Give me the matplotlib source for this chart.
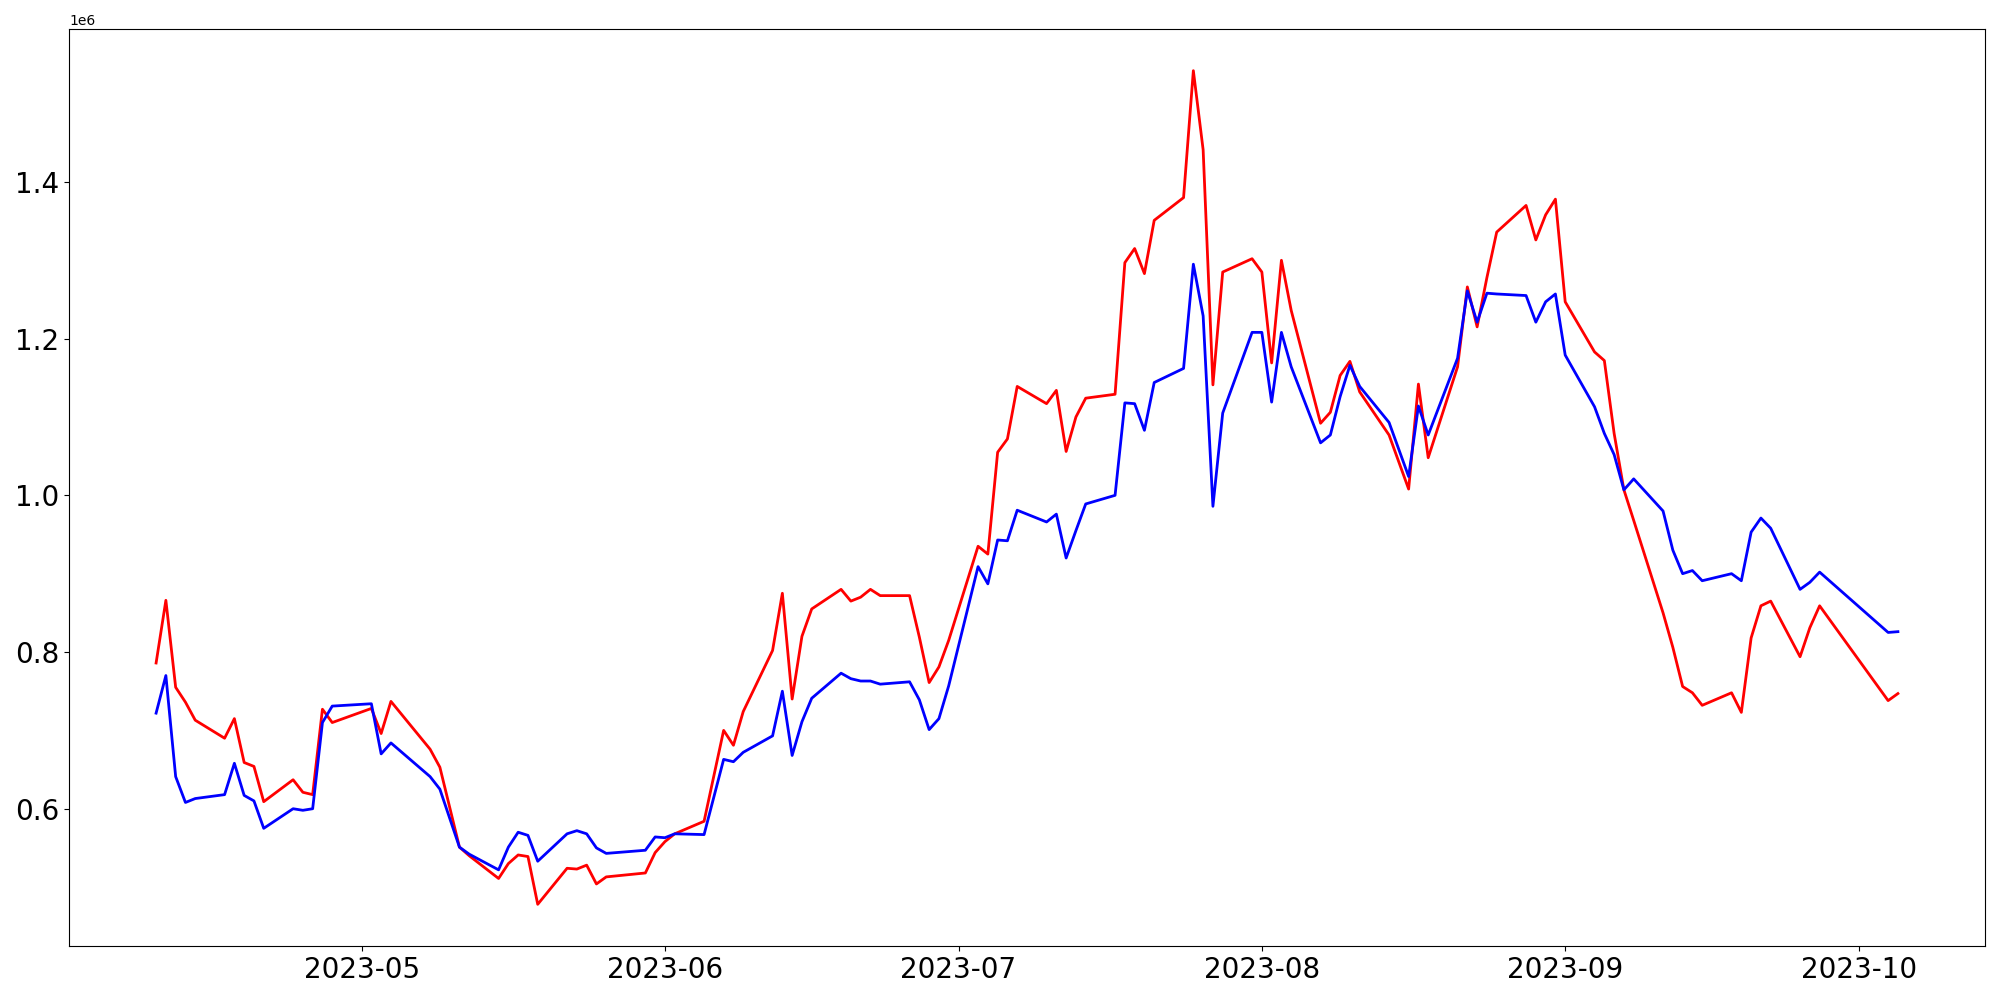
import matplotlib
matplotlib.use("Agg")
import matplotlib.pyplot as plt
import pandas as pd

# trading days seen in the picture
dates = pd.to_datetime([
    "2023-04-10", "2023-04-11", "2023-04-12", "2023-04-13", "2023-04-14",
    "2023-04-17", "2023-04-18", "2023-04-19", "2023-04-20", "2023-04-21",
    "2023-04-24", "2023-04-25", "2023-04-26", "2023-04-27", "2023-04-28",
    "2023-05-02", "2023-05-03", "2023-05-04", "2023-05-08", "2023-05-09",
    "2023-05-11", "2023-05-12", "2023-05-15", "2023-05-16", "2023-05-17",
    "2023-05-18", "2023-05-19", "2023-05-22", "2023-05-23", "2023-05-24",
    "2023-05-25", "2023-05-26", "2023-05-30", "2023-05-31",
    "2023-06-01", "2023-06-02", "2023-06-05", "2023-06-07", "2023-06-08",
    "2023-06-09", "2023-06-12", "2023-06-13", "2023-06-14", "2023-06-15",
    "2023-06-16", "2023-06-19", "2023-06-20", "2023-06-21", "2023-06-22",
    "2023-06-23", "2023-06-26", "2023-06-27", "2023-06-28", "2023-06-29",
    "2023-06-30",
    "2023-07-03", "2023-07-04", "2023-07-05", "2023-07-06", "2023-07-07",
    "2023-07-10", "2023-07-11", "2023-07-12", "2023-07-13", "2023-07-14",
    "2023-07-17", "2023-07-18", "2023-07-19", "2023-07-20", "2023-07-21",
    "2023-07-24", "2023-07-25", "2023-07-26", "2023-07-27", "2023-07-28",
    "2023-07-31",
    "2023-08-01", "2023-08-02", "2023-08-03", "2023-08-04", "2023-08-07",
    "2023-08-08", "2023-08-09", "2023-08-10", "2023-08-11", "2023-08-14",
    "2023-08-16", "2023-08-17", "2023-08-18", "2023-08-21", "2023-08-22",
    "2023-08-23", "2023-08-24", "2023-08-25", "2023-08-28", "2023-08-29",
    "2023-08-30", "2023-08-31",
    "2023-09-01", "2023-09-04", "2023-09-05", "2023-09-06", "2023-09-07",
    "2023-09-08", "2023-09-11", "2023-09-12", "2023-09-13", "2023-09-14",
    "2023-09-15", "2023-09-18", "2023-09-19", "2023-09-20", "2023-09-21",
    "2023-09-22", "2023-09-25", "2023-09-26", "2023-09-27",
    "2023-10-04", "2023-10-05",
])

# values in millions
red_vals = [
    0.786, 0.866, 0.755, 0.736, 0.713, 0.690, 0.715, 0.659, 0.654, 0.609,
    0.637, 0.621, 0.618, 0.727, 0.710,
    0.728, 0.696, 0.737, 0.676, 0.653, 0.551, 0.540, 0.511, 0.530, 0.541,
    0.539, 0.478, 0.524, 0.523, 0.528, 0.504, 0.513, 0.518, 0.544,
    0.558, 0.568, 0.584, 0.700, 0.681, 0.724, 0.802, 0.875, 0.740, 0.820,
    0.855, 0.880, 0.865, 0.870, 0.880, 0.872, 0.872, 0.819, 0.761, 0.781,
    0.815,
    0.935, 0.925, 1.055, 1.072, 1.139, 1.117, 1.134, 1.056, 1.100, 1.124,
    1.129, 1.297, 1.315, 1.283, 1.351, 1.380, 1.542, 1.441, 1.141, 1.285,
    1.302,
    1.285, 1.169, 1.300, 1.236, 1.092, 1.106, 1.153, 1.171, 1.132, 1.077,
    1.008, 1.142, 1.048, 1.164, 1.266, 1.215, 1.278, 1.336, 1.370, 1.326,
    1.358, 1.378,
    1.247, 1.183, 1.172, 1.079, 1.007, 0.968, 0.850, 0.806, 0.756, 0.748,
    0.732, 0.748, 0.723, 0.818, 0.859, 0.865, 0.794, 0.831, 0.859,
    0.738, 0.747,
]

blue_vals = [
    0.722, 0.770, 0.641, 0.608, 0.613, 0.618, 0.658, 0.617, 0.610, 0.575,
    0.600, 0.598, 0.600, 0.710, 0.731,
    0.734, 0.670, 0.684, 0.641, 0.625, 0.551, 0.542, 0.522, 0.551, 0.570,
    0.566, 0.533, 0.568, 0.572, 0.568, 0.550, 0.543, 0.547, 0.564,
    0.563, 0.568, 0.567, 0.663, 0.660, 0.672, 0.693, 0.750, 0.668, 0.711,
    0.741, 0.773, 0.766, 0.763, 0.763, 0.759, 0.762, 0.739, 0.701, 0.715,
    0.757,
    0.909, 0.887, 0.943, 0.942, 0.981, 0.966, 0.976, 0.920, 0.955, 0.989,
    1.000, 1.118, 1.117, 1.083, 1.144, 1.162, 1.295, 1.229, 0.986, 1.105,
    1.208,
    1.208, 1.119, 1.208, 1.164, 1.067, 1.077, 1.126, 1.166, 1.139, 1.093,
    1.024, 1.114, 1.077, 1.175, 1.261, 1.221, 1.258, 1.257, 1.255, 1.221,
    1.247, 1.257,
    1.179, 1.113, 1.079, 1.052, 1.007, 1.021, 0.980, 0.930, 0.900, 0.904,
    0.891, 0.900, 0.891, 0.953, 0.971, 0.958, 0.880, 0.889, 0.902,
    0.825, 0.826,
]

red = [v * 1e6 for v in red_vals]
blue = [v * 1e6 for v in blue_vals]

fig, ax = plt.subplots(figsize=(20, 10), dpi=100)
ax.plot(dates, red, color="red", linewidth=2)
ax.plot(dates, blue, color="blue", linewidth=2)

plt.xticks(fontsize=20)
plt.yticks(fontsize=20)

fig.subplots_adjust(left=0.0345, right=0.9925, top=0.971, bottom=0.054)
fig.savefig("out.png", dpi=100)
